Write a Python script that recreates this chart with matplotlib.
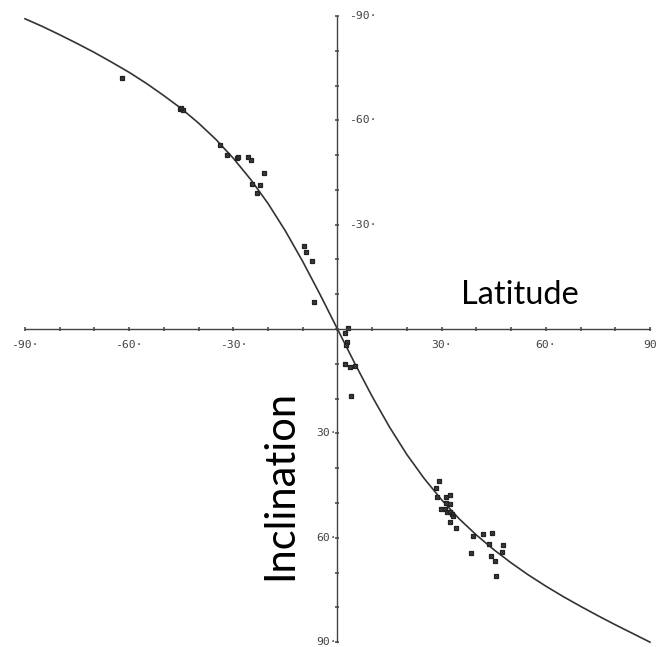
import matplotlib.pyplot as plt
import numpy as np

# field-line curve, inclination read at every 5 degrees of latitude
curve_lat = [-90, -85, -80, -75, -70, -65, -60, -55, -50, -45, -40, -35, -30, -25, -20,
             -15, -10, -5, 0, 5, 10, 15, 20, 25, 30, 35, 40, 45, 50, 55, 60, 65, 70,
             75, 80, 85, 90]
curve_inc = [-89.2, -87.0, -84.6, -82.1, -79.5, -76.7, -73.8, -70.6, -67.1, -63.4, -59.2,
             -54.5, -49.1, -43.0, -36.1, -28.2, -19.4, -9.9, 0, 9.9, 19.4, 28.2, 36.1,
             43.0, 49.1, 54.5, 59.2, 63.4, 67.2, 70.7, 73.9, 76.9, 79.7, 82.4, 85.0,
             87.5, 90]

# measured sites
site_lat = [-62.2, -45.4, -44.4, -45.0, -33.9, -31.9, -29.0, -28.6, -25.7, -25.0,
            -21.2, -24.7, -22.3, -23.3, -9.6, -9.0, -7.3, -6.7, 3.0, 2.3, 2.6, 2.4,
            2.2, 3.6, 5.0, 3.8, 29.3, 28.3, 28.8, 31.2, 32.4, 31.2, 32.4, 29.8, 31.0,
            31.5, 32.4, 33.1, 33.4, 32.4, 34.1, 39.0, 42.0, 44.4, 43.5, 47.8, 38.4,
            47.3, 44.1, 45.4, 45.7]
site_inc = [-72.1, -63.3, -63.0, -63.6, -52.9, -49.9, -49.1, -49.4, -49.6, -48.6,
            -45.0, -41.6, -41.4, -39.0, -23.8, -22.2, -19.5, -7.7, -0.4, 1.2, 3.7, 4.5,
            10.0, 11.0, 10.5, 19.3, 43.6, 45.7, 48.4, 48.4, 47.8, 49.9, 50.3, 51.8, 51.6,
            52.5, 52.7, 53.2, 53.7, 55.4, 57.1, 59.5, 59.0, 58.5, 61.9, 62.1, 64.3,
            64.0, 65.2, 66.7, 71.0]

ticks = np.arange(-90, 91, 10)
labelled = [-90, -60, -30, 30, 60, 90]

fig = plt.figure(figsize=(6.59, 6.47), dpi=100)
ax = fig.add_axes([0, 0, 1, 1])
ax.set_xlim(-97.2, 92.6)
ax.set_ylim(91.4, -94.6)

# axes cross at the origin
for side in ["top", "right"]:
    ax.spines[side].set_visible(False)
ax.spines["left"].set_position(("data", 0))
ax.spines["bottom"].set_position(("data", 0))
ax.spines["left"].set_bounds(-90, 90)
ax.spines["bottom"].set_bounds(-90, 90)
for s in ["left", "bottom"]:
    ax.spines[s].set_color("#444444")
    ax.spines[s].set_linewidth(1.0)
ax.set_xticks(ticks)
ax.set_yticks(ticks)
ax.tick_params(direction="inout", length=3, width=1.1, color="#444444",
               labelbottom=False, labelleft=False)

tfont = dict(family="DejaVu Sans Mono", fontsize=8.2, color="#444444")
for v in labelled:
    txt = "%d" % v if v == 90 else "%d·" % v
    ax.text(v, 4.6, txt, ha="center", va="center", **tfont)
for v in labelled:
    if v < 0:
        ax.text(3.3, v, "%d·" % v, ha="left", va="center", **tfont)
    else:
        ax.text(-0.3, v, "%d·" % v, ha="right", va="center", **tfont)

ax.plot(curve_lat, curve_inc, color="#333333", lw=1.2)
ax.plot(site_lat, site_inc, ls="none", marker="s", ms=3.4, mfc="#999999",
        mec="#222222", mew=0.9)
ax.plot(site_lat, site_inc, ls="none", marker="x", ms=2.2, mec="#222222", mew=0.8)

ax.text(52.6, -9.8, "Latitude", fontsize=23.4, family="Lato", ha="center",
        va="center", color="black")
ax.text(-16.6, 44.9, "Inclination", fontsize=30, family="Lato", ha="center",
        va="center", rotation=90, color="black")

fig.savefig("out.png", dpi=100)
